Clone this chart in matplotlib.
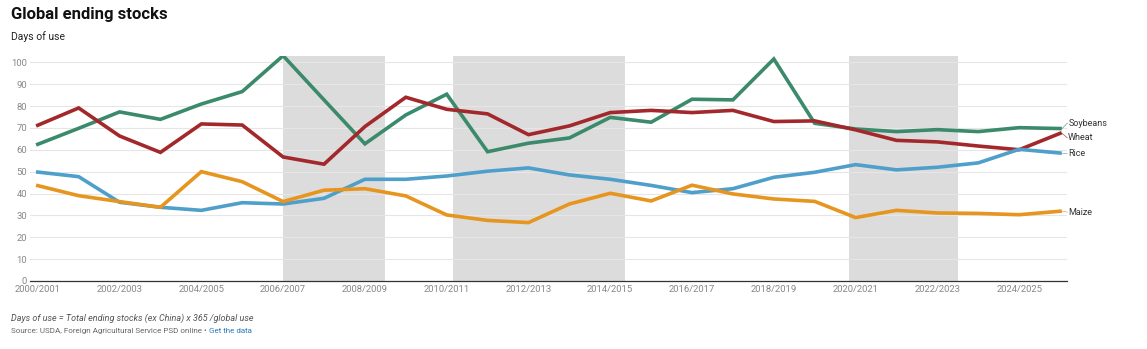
import matplotlib.pyplot as plt
import numpy as np

plt.rcParams['font.family'] = ['Roboto', 'DejaVu Sans']

# marketing years 2000/2001 ... 2025/2026
years = np.arange(2000, 2026)
tick_years = np.arange(2000, 2026, 2)
tick_labels = [f"{y}/{y + 1}" for y in tick_years]

soybeans = [62.5, 69.8, 77.3, 73.9, 80.9, 86.6, 103.0, 82.8, 62.7, 75.9,
            85.4, 59.1, 63.0, 65.4, 74.8, 72.6, 83.1, 82.8, 101.5, 72.1,
            69.5, 68.3, 69.2, 68.3, 70.1, 69.7]
wheat = [71.2, 79.1, 66.3, 58.8, 71.8, 71.3, 56.7, 53.4, 70.6, 84.0,
         78.5, 76.4, 66.9, 70.9, 77.0, 78.0, 77.0, 78.0, 72.9, 73.2,
         69.1, 64.3, 63.6, 61.7, 60.0, 67.5]
rice = [49.8, 47.7, 36.0, 33.7, 32.3, 35.8, 35.2, 37.8, 46.5, 46.5,
        48.0, 50.2, 51.7, 48.5, 46.5, 43.7, 40.4, 42.2, 47.4, 49.7,
        53.2, 50.8, 52.0, 54.0, 60.2, 58.5]
maize = [43.6, 39.0, 36.3, 33.7, 50.0, 45.4, 36.3, 41.5, 42.2, 38.9,
         30.2, 27.7, 26.7, 35.2, 40.1, 36.6, 43.8, 39.8, 37.5, 36.4,
         29.0, 32.3, 31.1, 30.9, 30.3, 31.9]

# shaded periods (start, end) in years
shade_periods = [(2006.0, 2008.5), (2010.15, 2014.35), (2019.85, 2022.5)]

# name, values, colour, label height (values) for the end labels
series = [
    ("Soybeans", soybeans, "#3b8a6c", 72.2),
    ("Wheat", wheat, "#a3282b", 65.4),
    ("Rice", rice, "#4f9fcb", 58.5),
    ("Maize", maize, "#e6951f", 31.5),
]

W, H = 1147, 349
fig = plt.figure(figsize=(W / 100, H / 100), dpi=100)
ax_left, ax_right, ax_bottom, ax_top = 30, 1067, 281, 55.7
ax = fig.add_axes([ax_left / W, 1 - ax_bottom / H,
                   (ax_right - ax_left) / W, (ax_bottom - ax_top) / H])

ax.set_xlim(1999.81, 2025.17)
ax.set_ylim(0, 103)

for start, end in shade_periods:
    ax.axvspan(start, end, color="#dcdcdc", lw=0, zorder=0)

ax.set_yticks(np.arange(0, 101, 10))
ax.grid(axis="y", color="#e6e6e6", lw=0.8, zorder=1)
ax.set_axisbelow(False)

for name, vals, color, label_y in series:
    ax.plot(years, vals, color=color, lw=2.6, solid_joinstyle="miter", zorder=3)
    # end label with a short leader line
    ax.text(2025.2, label_y, name, fontsize=6.5, color="#333333",
            va="center", ha="left", clip_on=False)
    ax.plot([2025.05, 2025.18], [vals[-1], label_y], color=color, lw=0.4,
            clip_on=False, zorder=3)

ax.set_xticks(tick_years)
ax.set_xticklabels(tick_labels)
ax.tick_params(axis="both", length=0, labelsize=6.8, labelcolor="#888888", pad=3)
ax.tick_params(axis="y", pad=2)
for s in ["top", "right", "left"]:
    ax.spines[s].set_visible(False)
ax.spines["bottom"].set_color("#333333")
ax.spines["bottom"].set_linewidth(0.9)
ax.spines["bottom"].set_zorder(4)

fig.text(11 / W, 1 - 14 / H, "Global ending stocks", fontsize=12, fontweight="bold",
         color="#111111", va="center", ha="left")
fig.text(11 / W, 1 - 37 / H, "Days of use", fontsize=7.5, color="#222222",
         va="center", ha="left")
fig.text(11 / W, 1 - 318 / H, "Days of use = Total ending stocks (ex China) x 365 /global use",
         fontsize=6.5, style="italic", color="#555555", va="center", ha="left")
t = fig.text(11 / W, 1 - 331 / H, "Source: USDA, Foreign Agricultural Service PSD online \u2022 ",
             fontsize=5.8, color="#666666", va="center", ha="left")
fig.canvas.draw()
bb = t.get_window_extent()
fig.text(bb.x1 / W, 1 - 331 / H, "Get the data", fontsize=5.8, color="#2a7ab8",
         va="center", ha="left")

fig.savefig("out.png", dpi=100)
